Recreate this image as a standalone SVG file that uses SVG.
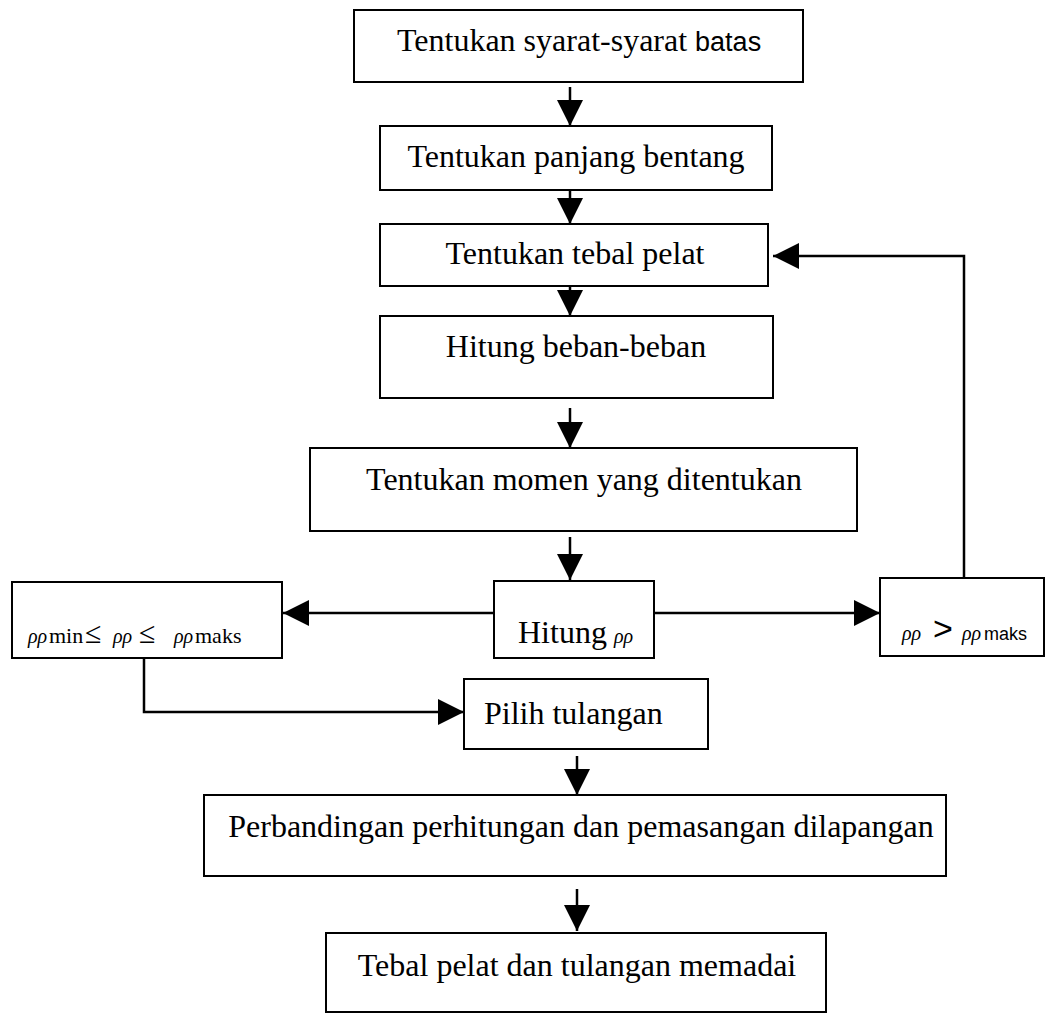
<svg xmlns="http://www.w3.org/2000/svg" width="1046" height="1014" viewBox="0 0 1046 1014">
<style>
.box{fill:#fff;stroke:#000;stroke-width:2}
.t{font-family:"Liberation Serif","Times New Roman",serif;font-size:32px;fill:#000}
.c{text-anchor:middle}
.rho{font-family:"Liberation Serif",serif;font-style:italic;font-size:20px}
.sub{font-family:"Liberation Serif",serif;font-size:22px}
.sans{font-family:"Liberation Sans",Arial,sans-serif}
.conn{fill:none;stroke:#000;stroke-width:2.5;marker-end:url(#ah)}
</style>
<defs>
<marker id="ah" markerUnits="userSpaceOnUse" markerWidth="26" markerHeight="26" refX="26" refY="13" orient="auto">
<path d="M0,0 L26,13 L0,26 Z" fill="#000"/>
</marker>
</defs>
<rect width="1046" height="1014" fill="#fff"/>
<g id="connectors">
<line class="conn" x1="570" y1="87" x2="570" y2="126"/>
<line class="conn" x1="570" y1="183" x2="570" y2="224"/>
<line class="conn" x1="570" y1="276" x2="570" y2="316"/>
<line class="conn" x1="570" y1="408" x2="570" y2="448"/>
<line class="conn" x1="570" y1="537" x2="570" y2="580"/>
<line class="conn" x1="494" y1="613" x2="283" y2="613"/>
<line class="conn" x1="654" y1="613" x2="880" y2="613"/>
<polyline class="conn" points="964,578 964,256 773,256"/>
<polyline class="conn" points="144,658 144,712 464,712"/>
<line class="conn" x1="577" y1="756" x2="577" y2="795"/>
<line class="conn" x1="577" y1="889" x2="577" y2="931"/>
</g>
<g id="n1">
<rect class="box" x="354" y="10" width="449" height="72"/>
<text class="t" x="397" y="51">Tentukan syarat-syarat <tspan class="sans" font-size="27">batas</tspan></text>
</g>
<g id="n2">
<rect class="box" x="380" y="126" width="392" height="64"/>
<text class="t c" x="576" y="167">Tentukan panjang bentang</text>
</g>
<g id="n3">
<rect class="box" x="380" y="224" width="388" height="62"/>
<text class="t c" x="575" y="264">Tentukan tebal pelat</text>
</g>
<g id="n4">
<rect class="box" x="380" y="316" width="393" height="82"/>
<text class="t c" x="576" y="357">Hitung beban-beban</text>
</g>
<g id="n5">
<rect class="box" x="310" y="448" width="547" height="83"/>
<text class="t c" x="584" y="490">Tentukan momen yang ditentukan</text>
</g>
<g id="n6">
<rect class="box" x="494" y="581" width="160" height="77"/>
<text class="t" x="518" y="643">Hitung <tspan class="rho" x="614">ρρ</tspan></text>
</g>
<g id="n7">
<rect class="box" x="12" y="582" width="270" height="76"/>
<text class="t" y="643"><tspan class="rho" x="28">ρρ</tspan><tspan class="sub" x="49">min</tspan><tspan x="85" font-size="30">≤</tspan><tspan class="rho" x="113">ρρ</tspan><tspan x="139" font-size="30">≤</tspan><tspan class="rho" x="174">ρρ</tspan><tspan class="sub" x="195">maks</tspan></text>
</g>
<g id="n8">
<rect class="box" x="880" y="578" width="164" height="78"/>
<text class="t" y="640"><tspan class="rho" x="902">ρρ</tspan><tspan class="sans" x="933" font-size="34">&gt;</tspan><tspan class="rho" x="962">ρρ</tspan><tspan class="sans" x="984" font-size="18">maks</tspan></text>
</g>
<g id="n9">
<rect class="box" x="464" y="679" width="244" height="70"/>
<text class="t" x="484" y="724">Pilih tulangan</text>
</g>
<g id="n10">
<rect class="box" x="204" y="795" width="742" height="81"/>
<text class="t c" x="581" y="837" font-size="31.5">Perbandingan perhitungan dan pemasangan dilapangan</text>
</g>
<g id="n11">
<rect class="box" x="326" y="933" width="500" height="79"/>
<text class="t c" x="577" y="976">Tebal pelat dan tulangan memadai</text>
</g>
</svg>
